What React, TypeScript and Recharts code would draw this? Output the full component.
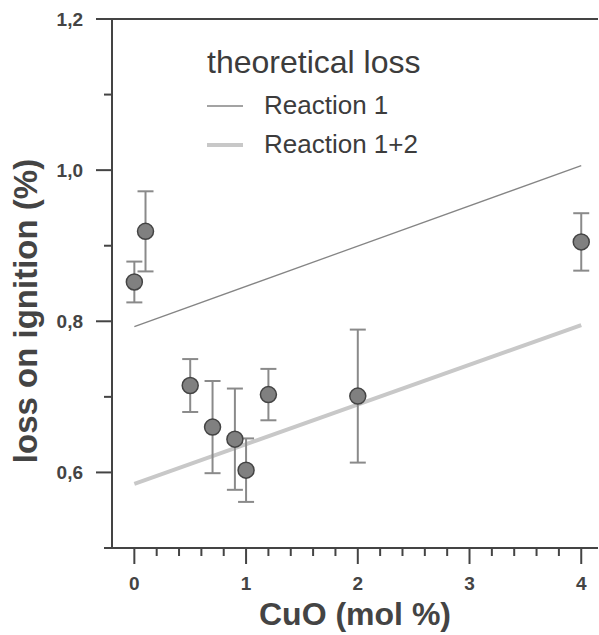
import React from 'react';
import { ComposedChart, Line, Scatter, ErrorBar, XAxis, YAxis, ReferenceLine, Label } from 'recharts';

// measured points: CuO content vs loss on ignition, with error bars
const cuo = [0, 0.1, 0.5, 0.7, 0.9, 1.0, 1.2, 2, 4];
const loss = [0.852, 0.919, 0.715, 0.66, 0.644, 0.603, 0.703, 0.701, 0.905];
const lossErr = [0.027, 0.053, 0.035, 0.061, 0.067, 0.042, 0.034, 0.088, 0.038];

// theoretical loss lines
const lineX = [0, 4];
const reaction1 = [0.793, 1.006];
const reaction12 = [0.585, 0.795];

const xTicks = [0, 0.2, 0.4, 0.6, 0.8, 1, 1.2, 1.4, 1.6, 1.8, 2, 2.2, 2.4, 2.6, 2.8, 3, 3.2, 3.4, 3.6, 3.8, 4];
const yTicks = [0.5, 0.6, 0.7, 0.8, 0.9, 1.0, 1.1, 1.2];
const yTickLabels = ['', '0,6', '', '0,8', '', '1,0', '', '1,2'];
const xTickLabels = ['0', '1', '2', '3', '4'];

const legendTitle = 'theoretical loss';
const seriesNames = ['Reaction 1', 'Reaction 1+2'];

const AXIS = '#444';
const FONT = '"Liberation Sans", Arial, sans-serif';
const R1_COLOR = '#858585';
const R12_COLOR = '#c8c8c8';

const points = cuo.map((x, i) => ({ x, y: loss[i], err: lossErr[i] }));
const r1Data = lineX.map((x, i) => ({ x, y: reaction1[i] }));
const r12Data = lineX.map((x, i) => ({ x, y: reaction12[i] }));

const XTick = ({ x, y, payload }: any) => {
  const v = payload.value;
  const major = Math.abs(v - Math.round(v)) < 1e-6;
  return (
    <g>
      <line x1={x} x2={x} y1={y} y2={y + (major ? 16 : 8)} stroke={AXIS} strokeWidth={2} />
      {major && (
        <text x={x} y={y + 42} textAnchor="middle" fontFamily={FONT} fontWeight="bold" fontSize={19} fill={AXIS}>
          {xTickLabels[Math.round(v)]}
        </text>
      )}
    </g>
  );
};

const YTick = ({ x, y, index }: any) => {
  const label = yTickLabels[index] ?? '';
  const major = label !== '';
  return (
    <g>
      <line x1={x - (major ? 16 : 8)} x2={x} y1={y} y2={y} stroke={AXIS} strokeWidth={2} />
      {major && (
        <text x={x - 29} y={y + 7} textAnchor="end" fontFamily={FONT} fontWeight="bold" fontSize={19} fill={AXIS}>
          {label}
        </text>
      )}
    </g>
  );
};

const Dot = (props: any) => (
  <circle cx={props.cx} cy={props.cy} r={8} fill="#808080" stroke="#444" strokeWidth={1.5} />
);

const Legend = () => (
  <svg width={599} height={635} style={{ position: 'absolute', left: 0, top: 0, pointerEvents: 'none' }}>
    <text x={207} y={73} fontFamily={FONT} fontSize={32} fill="#3c3c3c">{legendTitle}</text>
    <line x1={207} x2={243} y1={106} y2={106} stroke={R1_COLOR} strokeWidth={1.3} />
    <text x={264} y={114} fontFamily={FONT} fontSize={26} fill="#3c3c3c">{seriesNames[0]}</text>
    <line x1={207} x2={243} y1={145} y2={145} stroke={R12_COLOR} strokeWidth={4} />
    <text x={264} y={153} fontFamily={FONT} fontSize={26} fill="#3c3c3c">{seriesNames[1]}</text>
  </svg>
);

export default function App() {
  return (
    <div style={{ position: 'absolute', left: 0, top: 0, width: 599, height: 635, background: '#fff' }}>
      <ComposedChart width={599} height={635} margin={{ top: 19, right: 1, left: 0, bottom: 0 }}>
        <XAxis
          dataKey="x"
          type="number"
          domain={[-0.2, 4.15]}
          allowDataOverflow
          ticks={xTicks}
          interval={0}
          tick={<XTick />}
          tickSize={0}
          tickMargin={0}
          height={87}
          axisLine={{ stroke: AXIS, strokeWidth: 2 }}
        >
          <Label
            content={({ viewBox }: any) => (
              <text
                x={viewBox.x + viewBox.width / 2}
                y={viewBox.y + 77}
                textAnchor="middle"
                fontFamily={FONT}
                fontWeight="bold"
                fontSize={32}
                fill={AXIS}
              >
                CuO (mol %)
              </text>
            )}
          />
        </XAxis>
        <YAxis
          type="number"
          domain={[0.5, 1.2]}
          allowDataOverflow
          ticks={yTicks}
          interval={0}
          tick={<YTick />}
          tickSize={0}
          tickMargin={0}
          width={112}
          axisLine={{ stroke: AXIS, strokeWidth: 2 }}
        >
          <Label
            content={() => (
              <text
                x={37}
                y={311}
                transform="rotate(-90 37 311)"
                textAnchor="middle"
                fontFamily={FONT}
                fontWeight="bold"
                fontSize={33}
                fill={AXIS}
              >
                loss on ignition (%)
              </text>
            )}
          />
        </YAxis>
        <ReferenceLine y={1.2} stroke={AXIS} strokeWidth={2} />
        <Line data={r1Data} dataKey="y" stroke={R1_COLOR} strokeWidth={1.3} dot={false} isAnimationActive={false} />
        <Line data={r12Data} dataKey="y" stroke={R12_COLOR} strokeWidth={4} dot={false} isAnimationActive={false} />
        <Scatter data={points} dataKey="y" shape={<Dot />} isAnimationActive={false}>
          <ErrorBar dataKey="err" direction="y" width={8} stroke="#8a8a8a" strokeWidth={2} />
        </Scatter>
      </ComposedChart>
      <Legend />
    </div>
  );
}
